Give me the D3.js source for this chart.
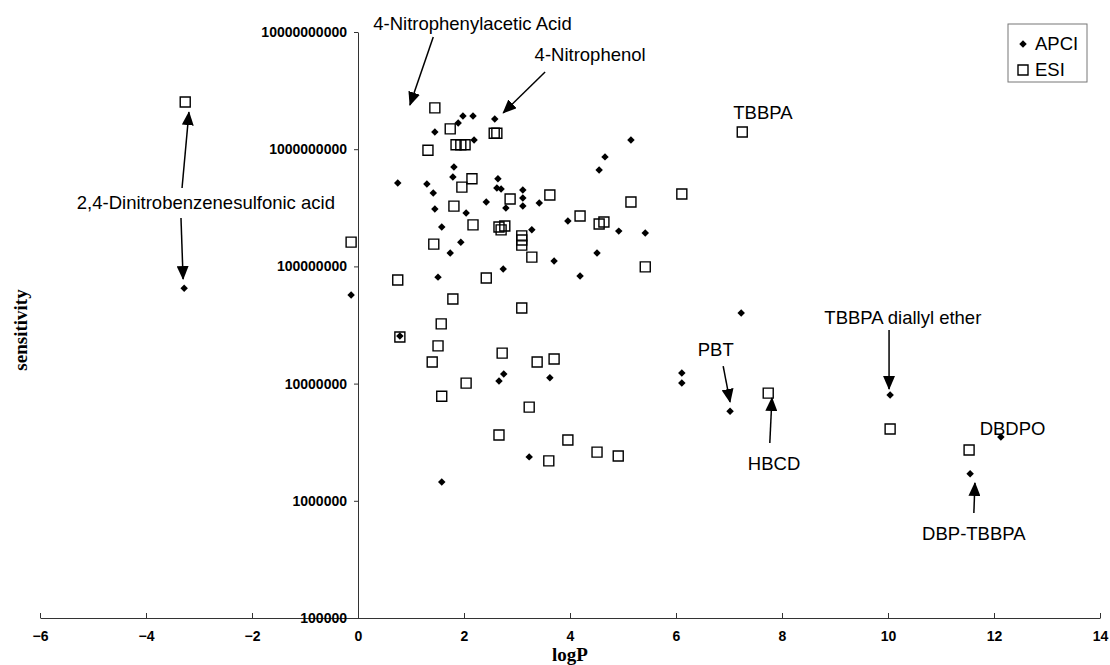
<!DOCTYPE html>
<html>
<head>
<meta charset="utf-8">
<script src="https://cdn.jsdelivr.net/npm/d3@7"></script>
<style>
    body { margin: 0; background: #fff; }
    svg { display: block; }
    .axis text { font-family: "Liberation Sans", Arial, sans-serif; font-size: 14px; font-weight: bold; fill: #000; }
    .note { font-family: "Liberation Sans", Arial, sans-serif; font-size: 18.5px; fill: #000; }
    .axis-title { font-family: "Liberation Serif", "Times New Roman", serif; font-size: 19px; font-weight: bold; }
</style>
</head>
<body>
<svg id="chart"></svg>
<script>
// APCI series (diamonds)
const apciLogP = [
    -3.28, -0.13, 0.79, 0.75, 1.98, 2.17, 1.89, 1.45, 2.58, 2.19,
    1.81, 1.79, 2.64, 1.30, 2.62, 2.70, 3.11, 1.42, 3.11, 3.11,
    3.42, 2.42, 2.79, 1.45, 2.04, 1.58, 3.28, 1.94, 1.74, 2.74,
    1.51, 5.15, 4.66, 4.55, 3.96, 4.92, 5.42, 3.70, 4.51, 4.19,
    7.23, 6.11, 6.11, 7.02, 10.04, 12.13, 11.55, 2.75, 2.66, 3.62,
    3.23, 1.58
];
const apciSensitivity = [
    6.5e7, 5.7e7, 2.55e7, 5.15e8, 1.92e9, 1.92e9, 1.67e9, 1.4e9, 1.81e9, 1.2e9,
    7.05e8, 5.8e8, 5.6e8, 5.05e8, 4.67e8, 4.57e8, 4.49e8, 4.23e8, 3.84e8, 3.27e8,
    3.48e8, 3.54e8, 3.15e8, 3.09e8, 2.86e8, 2.17e8, 2.05e8, 1.61e8, 1.3e8, 9.5e7,
    8.1e7, 1.2e9, 8.6e8, 6.65e8, 2.44e8, 2.0e8, 1.93e8, 1.11e8, 1.3e8, 8.3e7,
    4.0e7, 1.23e7, 1.01e7, 5.8e6, 8.0e6, 3.5e6, 1.7e6, 1.21e7, 1.05e7, 1.12e7,
    2.37e6, 1.45e6
];

// ESI series (open squares)
const esiLogP = [
    -3.26, -0.13, 0.75, 0.79, 1.45, 1.74, 2.57, 2.62, 1.85, 1.94,
    2.02, 1.32, 2.15, 1.96, 1.81, 2.87, 2.17, 2.66, 2.77, 2.70,
    3.09, 3.09, 3.09, 3.28, 1.43, 2.42, 1.79, 3.09, 1.57, 1.51,
    1.40, 2.72, 3.38, 3.70, 2.04, 1.58, 3.23, 2.66, 3.96, 3.60,
    4.51, 4.91, 3.62, 5.15, 6.11, 4.19, 4.55, 4.64, 5.42, 7.25,
    7.74, 10.04, 11.53
];
const esiSensitivity = [
    2.53e9, 1.61e8, 7.65e7, 2.5e7, 2.25e9, 1.49e9, 1.37e9, 1.37e9, 1.09e9, 1.09e9,
    1.09e9, 9.8e8, 5.6e8, 4.75e8, 3.27e8, 3.76e8, 2.26e8, 2.17e8, 2.21e8, 2.05e8,
    1.82e8, 1.68e8, 1.52e8, 1.2e8, 1.55e8, 7.96e7, 5.27e7, 4.42e7, 3.23e7, 2.1e7,
    1.53e7, 1.82e7, 1.53e7, 1.62e7, 1.01e7, 7.8e6, 6.3e6, 3.64e6, 3.3e6, 2.19e6,
    2.6e6, 2.41e6, 4.07e8, 3.54e8, 4.15e8, 2.69e8, 2.3e8, 2.39e8, 9.9e7, 1.4e9,
    8.3e6, 4.1e6, 2.71e6
];

const xTicks = [-6, -4, -2, 0, 2, 4, 6, 8, 10, 12, 14];
const yTicks = [1e5, 1e6, 1e7, 1e8, 1e9, 1e10];

// compound labels, placed in data coordinates
const noteText = [
    "4-Nitrophenylacetic Acid", "4-Nitrophenol", "2,4-Dinitrobenzenesulfonic acid",
    "TBBPA", "TBBPA diallyl ether", "PBT", "HBCD", "DBDPO", "DBP-TBBPA"
];
const noteLogP = [2.16, 4.38, -2.87, 7.64, 10.28, 6.75, 7.85, 12.35, 11.62];
const noteSens = [1.19e10, 6.37e9, 3.48e8, 2.04e9, 3.63e7, 1.94e7, 2.1e6, 4.1e6, 5.3e5];

// arrows: from -> to (arrowhead at "to")
const arrowFromLogP = [1.42, 3.53, -3.32, -3.34, 10.02, 6.89, 7.77, 11.62];
const arrowFromSens = [9.06e9, 4.56e9, 4.67e8, 2.59e8, 2.87e7, 1.41e7, 3.11e6, 7.87e5];
const arrowToLogP = [0.98, 2.74, -3.19, -3.30, 10.02, 7.02, 7.81, 11.64];
const arrowToSens = [2.38e9, 2.04e9, 2.07e9, 7.8e7, 9.0e6, 6.97e6, 7.54e6, 1.42e6];

const width = 1110;
const height = 665;

const svg = d3.select('#chart')
    .attr('width', width)
    .attr('height', height);

const x = d3.scaleLinear().domain([-6, 14]).range([40, 1100]);
const y = d3.scaleLog().domain([1e5, 1e10]).range([618, 32]);

// arrowhead marker
svg.append('defs').append('marker')
    .attr('id', 'head')
    .attr('markerUnits', 'userSpaceOnUse')
    .attr('markerWidth', 14)
    .attr('markerHeight', 12)
    .attr('refX', 13)
    .attr('refY', 6)
    .attr('orient', 'auto')
    .append('path')
    .attr('d', 'M0,0 L14,6 L0,12 Z')
    .attr('fill', '#000');

// x axis (crosses at the bottom of the y range)
const xAxis = svg.append('g')
    .attr('class', 'axis')
    .attr('transform', `translate(0,${y(1e5)})`)
    .call(d3.axisBottom(x).tickValues(xTicks).tickSize(-5).tickSizeOuter(0).tickPadding(13));
xAxis.select('.domain').attr('stroke', '#333');
xAxis.selectAll('.tick line').attr('stroke', '#333');

// y axis at logP = 0
const yAxis = svg.append('g')
    .attr('class', 'axis')
    .attr('transform', `translate(${x(0)},0)`)
    .call(d3.axisLeft(y).tickValues(yTicks).tickSize(4).tickSizeOuter(0).tickPadding(7)
        .tickFormat(d3.format('d')));
yAxis.select('.domain').attr('stroke', '#333');
yAxis.selectAll('.tick line').attr('stroke', '#333');

// axis titles
svg.append('text')
    .attr('class', 'axis-title')
    .attr('x', (x.range()[0] + x.range()[1]) / 2)
    .attr('y', 654)
    .attr('text-anchor', 'middle')
    .attr('dy', '0.35em')
    .text('logP');

svg.append('text')
    .attr('class', 'axis-title')
    .attr('transform', `translate(20,${(y.range()[0] + y.range()[1]) / 2 + 5}) rotate(-90)`)
    .attr('text-anchor', 'middle')
    .attr('dy', '0.35em')
    .text('sensitivity');

const diamond = d3.symbol().type(d3.symbolSquare).size(28);
const square = d3.symbol().type(d3.symbolSquare).size(100);

// ESI squares
svg.append('g')
    .selectAll('path')
    .data(esiLogP.map((v, i) => ({ logP: v, sens: esiSensitivity[i] })))
    .enter().append('path')
    .attr('d', square)
    .attr('transform', d => `translate(${x(d.logP)},${y(d.sens)})`)
    .attr('fill', 'none')
    .attr('stroke', '#000')
    .attr('stroke-width', 1.4);

// APCI diamonds
svg.append('g')
    .selectAll('path')
    .data(apciLogP.map((v, i) => ({ logP: v, sens: apciSensitivity[i] })))
    .enter().append('path')
    .attr('d', diamond)
    .attr('transform', d => `translate(${x(d.logP)},${y(d.sens)}) rotate(45)`)
    .attr('fill', '#000');

// arrows
svg.append('g')
    .selectAll('line')
    .data(arrowFromLogP.map((v, i) => ({
        x1: v, y1: arrowFromSens[i], x2: arrowToLogP[i], y2: arrowToSens[i]
    })))
    .enter().append('line')
    .attr('x1', d => x(d.x1))
    .attr('y1', d => y(d.y1))
    .attr('x2', d => x(d.x2))
    .attr('y2', d => y(d.y2))
    .attr('stroke', '#000')
    .attr('stroke-width', 1.5)
    .attr('marker-end', 'url(#head)');

// labels
svg.append('g')
    .selectAll('text')
    .data(noteText.map((t, i) => ({ text: t, logP: noteLogP[i], sens: noteSens[i] })))
    .enter().append('text')
    .attr('class', 'note')
    .attr('x', d => x(d.logP))
    .attr('y', d => y(d.sens))
    .attr('dy', '0.35em')
    .attr('text-anchor', 'middle')
    .text(d => d.text);

// legend
const legend = svg.append('g').attr('transform', 'translate(1008,24)');
legend.append('rect')
    .attr('width', 79)
    .attr('height', 58)
    .attr('fill', '#fff')
    .attr('stroke', '#777')
    .attr('stroke-width', 1);
legend.append('path')
    .attr('d', diamond)
    .attr('transform', 'translate(15,20) rotate(45)')
    .attr('fill', '#000');
legend.append('path')
    .attr('d', square)
    .attr('transform', 'translate(15,46)')
    .attr('fill', 'none')
    .attr('stroke', '#000')
    .attr('stroke-width', 1.4);
legend.append('text')
    .attr('class', 'note')
    .attr('x', 27)
    .attr('y', 20)
    .attr('dy', '0.35em')
    .text('APCI');
legend.append('text')
    .attr('class', 'note')
    .attr('x', 27)
    .attr('y', 46)
    .attr('dy', '0.35em')
    .text('ESI');
</script>
</body>
</html>
